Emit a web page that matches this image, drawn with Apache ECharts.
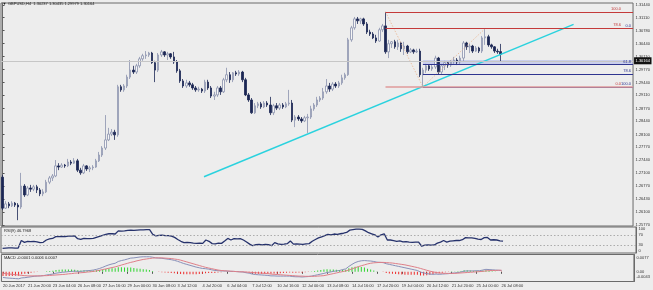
<!DOCTYPE html>
<html><head><meta charset="utf-8">
<script src="https://cdn.jsdelivr.net/npm/echarts@6/dist/echarts.min.js"></script>
<style>html,body{margin:0;padding:0;background:#ededed}#c{width:653px;height:290px}</style>
</head><body><div id="c"></div><script>
// ---------- DATA ----------
const headerText = 'GBPUSD,H4  1.30237 1.30435 1.29979 1.30164';
const rsiTitle = 'RSI(9) 46.7968';
const macdTitle = 'MACD -0.0001 0.0006 0.0007';
const lastPriceText = '1.30164';
const lastClose = 1.30164;
const xTickLabels = ['20 Jun 2017','21 Jun 20:00','23 Jun 04:00','26 Jun 08:00','27 Jun 16:00','29 Jun 00:00','30 Jun 08:00','3 Jul 12:00','4 Jul 20:00','6 Jul 04:00','7 Jul 12:00','10 Jul 16:00','12 Jul 00:00','13 Jul 08:00','14 Jul 16:00','17 Jul 20:00','19 Jul 04:00','20 Jul 12:00','21 Jul 20:00','25 Jul 00:00','26 Jul 08:00'];
const priceTicks = [1.2577,1.2610,1.2643,1.2677,1.2710,1.2744,1.2777,1.2810,1.2844,1.2877,1.2911,1.2944,1.2977,1.3011,1.3044,1.3078,1.3111,1.3144];
const rsiTicks = [100,70,30,0];
const macdTicks = [0.0077,0,-0.0043];
// [open, close, low, high]
const ohlc = [
[1.2700,1.2620,1.2615,1.2706],[1.2620,1.2631,1.2618,1.2638],[1.2631,1.2626,1.2620,1.2636],[1.2626,1.2633,1.2623,1.2638],
[1.2633,1.2628,1.2623,1.2636],[1.2628,1.2623,1.2589,1.2633],[1.2623,1.2677,1.2618,1.2711],[1.2677,1.2654,1.2649,1.2682],
[1.2654,1.2672,1.2651,1.2677],[1.2672,1.2669,1.2662,1.2680],[1.2669,1.2675,1.2664,1.2680],[1.2675,1.2667,1.2659,1.2680],
[1.2667,1.2657,1.2651,1.2672],[1.2657,1.2662,1.2651,1.2669],[1.2662,1.2687,1.2659,1.2693],[1.2687,1.2698,1.2682,1.2703],
[1.2698,1.2703,1.2690,1.2708],[1.2703,1.2729,1.2700,1.2744],[1.2729,1.2726,1.2718,1.2736],[1.2726,1.2731,1.2724,1.2736],
[1.2731,1.2729,1.2724,1.2734],[1.2729,1.2739,1.2726,1.2747],[1.2739,1.2736,1.2731,1.2744],[1.2736,1.2742,1.2734,1.2749],
[1.2742,1.2718,1.2713,1.2747],[1.2718,1.2711,1.2706,1.2724],[1.2711,1.2729,1.2708,1.2734],[1.2729,1.2721,1.2716,1.2731],
[1.2721,1.2724,1.2713,1.2729],[1.2724,1.2726,1.2718,1.2731],[1.2726,1.2742,1.2724,1.2747],[1.2742,1.2757,1.2739,1.2765],
[1.2757,1.2775,1.2752,1.2780],[1.2775,1.2796,1.2770,1.2860],[1.2796,1.2811,1.2793,1.2827],[1.2811,1.2816,1.2806,1.2824],
[1.2816,1.2809,1.2796,1.2822],[1.2809,1.2933,1.2804,1.2938],[1.2933,1.2925,1.2920,1.2938],[1.2925,1.2935,1.2920,1.2940],
[1.2935,1.2958,1.2930,1.2964],[1.2958,1.2976,1.2953,1.3002],[1.2976,1.2971,1.2966,1.2987],[1.2971,1.2987,1.2966,1.2992],
[1.2987,1.3005,1.2982,1.3010],[1.3005,1.3013,1.3000,1.3018],[1.3013,1.3015,1.3005,1.3025],[1.3015,1.3020,1.3010,1.3023],
[1.3020,1.2995,1.2992,1.3023],[1.2995,1.2976,1.2945,1.3000],[1.2976,1.3015,1.2971,1.3020],[1.3015,1.3023,1.3010,1.3028],
[1.3023,1.3015,1.3010,1.3025],[1.3015,1.3018,1.3002,1.3023],[1.3018,1.3010,1.3005,1.3020],[1.3010,1.2997,1.2992,1.3023],
[1.2997,1.2974,1.2969,1.3002],[1.2974,1.2948,1.2943,1.2979],[1.2948,1.2935,1.2930,1.2953],[1.2935,1.2943,1.2930,1.2951],
[1.2943,1.2938,1.2933,1.2948],[1.2938,1.2930,1.2925,1.2943],[1.2930,1.2925,1.2920,1.2935],[1.2925,1.2927,1.2920,1.2933],
[1.2927,1.2922,1.2917,1.2930],[1.2922,1.2945,1.2917,1.2951],[1.2945,1.2930,1.2925,1.2951],[1.2930,1.2909,1.2904,1.2935],
[1.2909,1.2912,1.2899,1.2920],[1.2912,1.2930,1.2907,1.2935],[1.2930,1.2920,1.2912,1.2935],[1.2920,1.2951,1.2917,1.2956],
[1.2951,1.2964,1.2945,1.2982],[1.2964,1.2951,1.2943,1.2971],[1.2951,1.2969,1.2945,1.2971],[1.2969,1.2966,1.2961,1.2974],
[1.2966,1.2971,1.2961,1.2976],[1.2971,1.2951,1.2945,1.2974],[1.2951,1.2912,1.2909,1.2956],[1.2912,1.2899,1.2894,1.2917],
[1.2899,1.2866,1.2863,1.2904],[1.2866,1.2884,1.2863,1.2891],[1.2884,1.2889,1.2878,1.2894],[1.2889,1.2881,1.2876,1.2894],
[1.2881,1.2891,1.2878,1.2896],[1.2891,1.2886,1.2881,1.2896],[1.2886,1.2866,1.2860,1.2907],[1.2866,1.2884,1.2860,1.2889],
[1.2884,1.2878,1.2873,1.2891],[1.2878,1.2886,1.2873,1.2891],[1.2886,1.2881,1.2876,1.2891],[1.2881,1.2889,1.2878,1.2894],
[1.2889,1.2891,1.2884,1.2925],[1.2891,1.2847,1.2842,1.2899],[1.2847,1.2855,1.2829,1.2860],[1.2855,1.2850,1.2845,1.2860],
[1.2850,1.2845,1.2840,1.2855],[1.2845,1.2853,1.2842,1.2858],[1.2853,1.2855,1.2814,1.2863],[1.2855,1.2876,1.2850,1.2884],
[1.2876,1.2886,1.2871,1.2891],[1.2886,1.2899,1.2881,1.2907],[1.2899,1.2904,1.2894,1.2909],[1.2904,1.2920,1.2899,1.2930],
[1.2920,1.2935,1.2915,1.2953],[1.2935,1.2927,1.2920,1.2943],[1.2927,1.2940,1.2922,1.2945],[1.2940,1.2935,1.2930,1.2945],
[1.2935,1.2943,1.2930,1.2948],[1.2943,1.2956,1.2938,1.2964],[1.2956,1.2964,1.2951,1.2969],[1.2964,1.3054,1.2961,1.3059],
[1.3054,1.3085,1.3049,1.3090],[1.3085,1.3108,1.3080,1.3113],[1.3108,1.3103,1.3095,1.3113],[1.3103,1.3108,1.3095,1.3111],
[1.3108,1.3095,1.3090,1.3111],[1.3095,1.3074,1.3069,1.3100],[1.3074,1.3069,1.3064,1.3080],[1.3069,1.3059,1.3056,1.3074],
[1.3059,1.3051,1.3046,1.3067],[1.3051,1.3080,1.3049,1.3085],[1.3080,1.3090,1.3074,1.3095],[1.3090,1.3023,1.3018,1.3126],
[1.3023,1.3044,1.3007,1.3054],[1.3044,1.3049,1.3033,1.3051],[1.3049,1.3036,1.3031,1.3054],[1.3036,1.3046,1.3028,1.3054],
[1.3046,1.3031,1.3023,1.3049],[1.3031,1.3038,1.3015,1.3049],[1.3038,1.3023,1.3018,1.3041],[1.3023,1.3028,1.3020,1.3033],
[1.3028,1.3023,1.3018,1.3031],[1.3023,1.3025,1.3020,1.3031],[1.3025,1.2964,1.2958,1.3031],[1.2964,1.2976,1.2933,1.2982],
[1.2976,1.2987,1.2969,1.2992],[1.2987,1.2979,1.2974,1.2989],[1.2979,1.2984,1.2974,1.2989],[1.2984,1.3007,1.2979,1.3013],
[1.3007,1.2971,1.2966,1.3010],[1.2971,1.2987,1.2966,1.2992],[1.2987,1.2995,1.2976,1.3000],[1.2995,1.2989,1.2982,1.2997],
[1.2989,1.2997,1.2984,1.3002],[1.2997,1.3002,1.2992,1.3010],[1.3002,1.2997,1.2989,1.3007],[1.2997,1.3007,1.2992,1.3013],
[1.3007,1.3046,1.2997,1.3051],[1.3046,1.3036,1.3028,1.3049],[1.3036,1.3038,1.3020,1.3044],[1.3038,1.3025,1.3020,1.3041],
[1.3025,1.3033,1.3023,1.3038],[1.3033,1.3025,1.3020,1.3036],[1.3025,1.3059,1.3020,1.3064],[1.3059,1.3062,1.3041,1.3083],
[1.3062,1.3041,1.3036,1.3067],[1.3041,1.3036,1.3031,1.3044],[1.3036,1.3025,1.3020,1.3038],[1.3025,1.3023,1.3018,1.3031],
[1.30237,1.30164,1.29979,1.30435]
];
const rsi = [18,19,20,20,19,19,48,41,45,44,45,43,40,41,50,54,56,63,63,64,63,65,65,66,55,52,56,55,55,56,60,64,68,72,74,74,73,85,
84,85,87,88,87,88,89,89,90,90,72,66,68,69,67,67,65,60,52,45,40,41,40,38,37,38,37,50,45,36,35,38,37,46,56,50,55,54,55,50,
42,34,28,32,33,31,33,32,28,40,35,33,34,36,46,34,35,34,33,35,36,45,52,58,62,67,72,70,73,72,74,76,79,88,90,92,92,91,
85,78,74,70,62,70,74,50,50,48,45,47,43,44,42,41,42,42,26,30,31,30,31,38,42,48,42,46,47,48,48,51,59,58,58,56,53,52,59,60,50,51,50,47,46];
const macdMain = [-0.0025,-0.0027,-0.0028,-0.0029,-0.0030,-0.0031,-0.0027,-0.0026,-0.0024,-0.0022,-0.0020,-0.0019,-0.0018,-0.0017,-0.0014,-0.0012,
-0.0010,-0.0006,-0.0004,-0.0002,-0.0001,0.0001,0.0002,0.0003,0.0002,0.0002,0.0004,0.0005,0.0006,0.0008,0.0011,0.0015,0.0020,0.0026,0.0031,0.0035,
0.0038,0.0046,0.0050,0.0053,0.0057,0.0061,0.0062,0.0064,0.0066,0.0067,0.0067,0.0067,0.0065,0.0062,0.0061,0.0060,0.0058,0.0056,0.0054,0.0051,
0.0047,0.0042,0.0037,0.0033,0.0029,0.0025,0.0021,0.0018,0.0015,0.0014,0.0012,0.0009,0.0006,0.0005,0.0004,0.0004,0.0003,0.0002,0.0002,0.0001,
0.0000,-0.0001,-0.0004,-0.0006,-0.0010,-0.0012,-0.0013,-0.0014,-0.0015,-0.0016,-0.0018,-0.0018,-0.0019,-0.0019,-0.0019,-0.0019,-0.0019,-0.0021,
-0.0022,-0.0022,-0.0023,-0.0022,-0.0021,-0.0019,-0.0016,-0.0013,-0.0010,-0.0007,-0.0003,-0.0001,0.0002,0.0004,0.0006,0.0010,0.0013,0.0024,
0.0033,0.0041,0.0046,0.0049,0.0050,0.0049,0.0048,0.0046,0.0043,0.0042,0.0041,0.0036,0.0033,0.0030,0.0027,0.0024,0.0021,0.0018,0.0015,0.0012,
0.0009,0.0006,-0.0001,-0.0005,-0.0008,-0.0010,-0.0011,-0.0010,-0.0011,-0.0010,-0.0009,-0.0008,-0.0006,-0.0005,-0.0003,-0.0001,0.0003,0.0004,
0.0004,0.0004,0.0005,0.0005,0.0008,0.0011,0.0010,0.0009,0.0008,0.0007,0.0006];
const macdSignal = [-0.0006,-0.0008,-0.0010,-0.0011,-0.0013,-0.0014,-0.0016,-0.0017,-0.0018,-0.0018,-0.0018,-0.0018,-0.0018,-0.0017,-0.0017,-0.0016,
-0.0015,-0.0014,-0.0013,-0.0012,-0.0011,-0.0009,-0.0008,-0.0006,-0.0005,-0.0004,-0.0003,-0.0001,0.0000,0.0002,0.0004,0.0007,0.0010,0.0013,0.0016,
0.0019,0.0022,0.0026,0.0030,0.0034,0.0038,0.0042,0.0045,0.0049,0.0052,0.0055,0.0057,0.0059,0.0061,0.0062,0.0062,0.0062,0.0061,0.0060,0.0059,
0.0057,0.0055,0.0052,0.0048,0.0044,0.0040,0.0036,0.0032,0.0028,0.0024,0.0020,0.0017,0.0014,0.0011,0.0008,0.0006,0.0005,0.0004,0.0003,0.0002,
0.0001,0.0000,0.0000,-0.0001,-0.0002,-0.0003,-0.0004,-0.0005,-0.0006,-0.0007,-0.0008,-0.0010,-0.0011,-0.0012,-0.0013,-0.0014,-0.0015,-0.0016,
-0.0017,-0.0018,-0.0019,-0.0019,-0.0020,-0.0020,-0.0020,-0.0020,-0.0019,-0.0018,-0.0017,-0.0014,-0.0011,-0.0008,-0.0005,-0.0002,0.0001,0.0004,
0.0008,0.0013,0.0018,0.0023,0.0027,0.0031,0.0035,0.0038,0.0040,0.0041,0.0042,0.0042,0.0041,0.0040,0.0039,0.0037,0.0035,0.0033,0.0031,0.0028,
0.0025,0.0022,0.0019,0.0015,0.0011,0.0007,0.0003,0.0000,-0.0003,-0.0005,-0.0006,-0.0007,-0.0007,-0.0007,-0.0007,-0.0006,-0.0005,-0.0004,
-0.0003,-0.0002,-0.0001,0.0000,0.0001,0.0002,0.0004,0.0005,0.0006,0.0006,0.0007,0.0007];
// drawn objects (bar index, price)
const trendLine = [[64.7,1.2701],[183.4,1.3094]];
const fibRedAnchors = [[123,1.3126],[135,1.2933]];
const fibBlueAnchors = [[135,1.2933],[155,1.3083]];
const fibRedLevels = [['100.0',1.3126],['78.6',1.3085],['0.0',1.2933]];
const fibBlueLevels = [['0.0',1.3083],['61.8',1.2990],['78.6',1.2965],['100.0',1.2933]];
const fibBlueBand = [1.3002,1.2990];

// ---------- CHART ----------
const FONT = 'Liberation Sans';
const FS = 4;
const totalSlots = 203; // bars + right chart shift
const cats = []; for (let i = 0; i < totalSlots; i++) cats.push(String(i));
const lastSlot = totalSlots - 0.5;
const tickShown = (i) => i % 8 === 0 && i / 8 < xTickLabels.length;
const hist = macdMain.map((m, i) => {
  const v = +(m - macdSignal[i]).toFixed(4);
  return {value: v, itemStyle: {color: v >= 0 ? '#2fd42f' : '#ee2a2a'}};
});

function fibLines(levels, startIdx, color, offX, lastStyle) {
  return levels.map(([name, p], k) => {
    const ls = (lastStyle && k === levels.length - 1) ? lastStyle : {color: color, width: 1};
    return [
      {coord: [startIdx, p], lineStyle: ls, label: {formatter: name, color: color, offset: [offX, 0]}},
      {coord: [lastSlot, p]}
    ];
  });
}

const chart = echarts.init(document.getElementById('c'), null, {renderer: 'canvas'});
const axisTextColor = '#333';
chart.setOption({
  backgroundColor: '#ededed',
  animation: false,
  textStyle: {fontFamily: FONT},
  grid: [
    {left: 1, right: 17, top: 3, height: 223, show: true, borderColor: '#6a6a6a', borderWidth: 1},
    {left: 1, right: 17, top: 227, height: 26, show: true, borderColor: '#6a6a6a', borderWidth: 1},
    {left: 1, right: 17, top: 254.5, height: 27, show: true, borderColor: '#6a6a6a', borderWidth: 1}
  ],
  xAxis: [
    {type: 'category', gridIndex: 0, data: cats, axisLine: {show: false}, axisTick: {show: false}, axisLabel: {show: false}, splitLine: {show: false}},
    {type: 'value', gridIndex: 0, min: -0.5, max: lastSlot, show: false},
    {type: 'category', gridIndex: 1, data: cats, show: false},
    {type: 'category', gridIndex: 2, data: cats, axisLine: {show: false},
      axisTick: {show: true, alignWithLabel: true, interval: tickShown, length: 2, lineStyle: {color: '#555'}},
      axisLabel: {interval: tickShown, formatter: (v, i) => xTickLabels[Math.round(i / 8)] || '', align: 'left', margin: 2.5, fontSize: FS, color: axisTextColor, fontFamily: FONT, hideOverlap: false},
      splitLine: {show: false}}
  ],
  yAxis: [
    {type: 'value', gridIndex: 0, position: 'right', min: 1.2574, max: 1.3149,
      axisLine: {show: true, lineStyle: {color: '#6a6a6a'}},
      axisTick: {show: true, length: 2, customValues: priceTicks, lineStyle: {color: '#555'}},
      axisLabel: {customValues: priceTicks, formatter: v => v.toFixed(5), fontSize: FS, color: axisTextColor, margin: 2.5, fontFamily: FONT, hideOverlap: false},
      splitLine: {show: false}},
    {type: 'value', gridIndex: 1, position: 'right', min: 0, max: 100,
      axisLine: {show: true, lineStyle: {color: '#6a6a6a'}},
      axisTick: {show: false},
      axisLabel: {customValues: rsiTicks, fontSize: FS, color: axisTextColor, margin: 2.5, fontFamily: FONT, hideOverlap: false,
        formatter: v => v === 100 ? '{a|100}' : v === 0 ? '{b|0}' : String(v),
        rich: {a: {padding: [4, 0, 0, 0], fontSize: FS, color: axisTextColor}, b: {padding: [0, 0, 4, 0], fontSize: FS, color: axisTextColor}}},
      splitLine: {show: false}},
    {type: 'value', gridIndex: 2, position: 'right', min: -0.0043, max: 0.0077,
      axisLine: {show: true, lineStyle: {color: '#6a6a6a'}},
      axisTick: {show: false},
      axisLabel: {customValues: macdTicks, fontSize: FS, color: axisTextColor, margin: 2.5, fontFamily: FONT, hideOverlap: false,
        formatter: v => v > 0.001 ? '{a|' + v.toFixed(4) + '}' : v < -0.001 ? '{b|' + v.toFixed(4) + '}' : '0.00',
        rich: {a: {padding: [6, 0, 0, 0], fontSize: FS, color: axisTextColor}, b: {padding: [0, 0, 10, 0], fontSize: FS, color: axisTextColor}}},
      splitLine: {show: false}}
  ],
  series: [
    {type: 'candlestick', name: 'GBPUSD', xAxisIndex: 0, yAxisIndex: 0, data: ohlc, barWidth: 2,
      itemStyle: {color: '#f6f6f6', color0: '#1c2754', borderColor: '#8a92ad', borderColor0: '#1c2754', borderWidth: 0.8},
      markLine: {silent: true, symbol: ['none', 'none'], animation: false,
        lineStyle: {color: '#c6c6c6', width: 1, type: 'solid'},
        label: {show: true, position: 'end', formatter: lastPriceText, backgroundColor: '#111', color: '#fff', fontSize: FS, padding: [1.5, 1.5], distance: 1, fontFamily: FONT},
        data: [{yAxis: lastClose}]}},
    {type: 'line', name: 'trend', xAxisIndex: 1, yAxisIndex: 0, data: trendLine, symbol: 'none', silent: true,
      lineStyle: {color: '#2ad2de', width: 1.4}},
    {type: 'line', name: 'fibBlue', xAxisIndex: 1, yAxisIndex: 0, data: fibBlueAnchors, symbol: 'none', silent: true,
      lineStyle: {color: '#e9b48f', width: 0.8, type: [1.5, 1.5]},
      markArea: {silent: true, itemStyle: {color: 'rgba(160,170,235,0.45)'},
        data: [[{coord: [fibBlueAnchors[0][0], fibBlueBand[0]]}, {coord: [lastSlot, fibBlueBand[1]]}]]},
      markLine: {silent: true, symbol: ['none', 'none'], animation: false,
        lineStyle: {width: 1, type: 'solid'},
        label: {show: true, position: 'insideEndTop', fontSize: FS, distance: 1, fontFamily: FONT},
        data: fibLines(fibBlueLevels, fibBlueAnchors[0][0], '#2f3590', -1)}},
    {type: 'line', name: 'fibRed', xAxisIndex: 1, yAxisIndex: 0, data: fibRedAnchors, symbol: 'none', silent: true,
      lineStyle: {color: '#e9b48f', width: 0.8, type: [1.5, 1.5]},
      markLine: {silent: true, symbol: ['none', 'none'], animation: false,
        lineStyle: {width: 1, type: 'solid'},
        label: {show: true, position: 'insideEndTop', fontSize: FS, distance: 1, fontFamily: FONT},
        data: fibLines(fibRedLevels, fibRedAnchors[0][0], '#c43a3a', -11, {color: '#df9a9a', width: 1.6})}},
    {type: 'line', name: 'RSI', xAxisIndex: 2, yAxisIndex: 1, data: rsi, symbol: 'none', silent: true,
      lineStyle: {color: '#26326c', width: 1.3},
      markLine: {silent: true, symbol: ['none', 'none'], animation: false, label: {show: false},
        lineStyle: {color: '#9a9a9a', width: 0.8, type: [1.5, 2]}, data: [{yAxis: 70}, {yAxis: 30}]}},
    {type: 'bar', name: 'hist', xAxisIndex: 3, yAxisIndex: 2, data: hist, barWidth: 1, silent: true},
    {type: 'line', name: 'main', xAxisIndex: 3, yAxisIndex: 2, data: macdMain, symbol: 'none', silent: true,
      lineStyle: {color: '#8990b8', width: 1}},
    {type: 'line', name: 'signal', xAxisIndex: 3, yAxisIndex: 2, data: macdSignal, symbol: 'none', silent: true,
      lineStyle: {color: '#df7f88', width: 1}}
  ],
  graphic: [
    {type: 'text', left: 2.5, top: 2, style: {text: '▼', font: '4px ' + FONT, fill: '#222'}},
    {type: 'text', left: 8, top: 2, style: {text: headerText, font: '4px ' + FONT, fill: '#222'}},
    {type: 'text', left: 4, top: 228.5, style: {text: rsiTitle, font: '4px ' + FONT, fill: '#222'}},
    {type: 'text', left: 4, top: 256, style: {text: macdTitle, font: '4px ' + FONT, fill: '#222'}}
  ]
});
</script></body></html>
